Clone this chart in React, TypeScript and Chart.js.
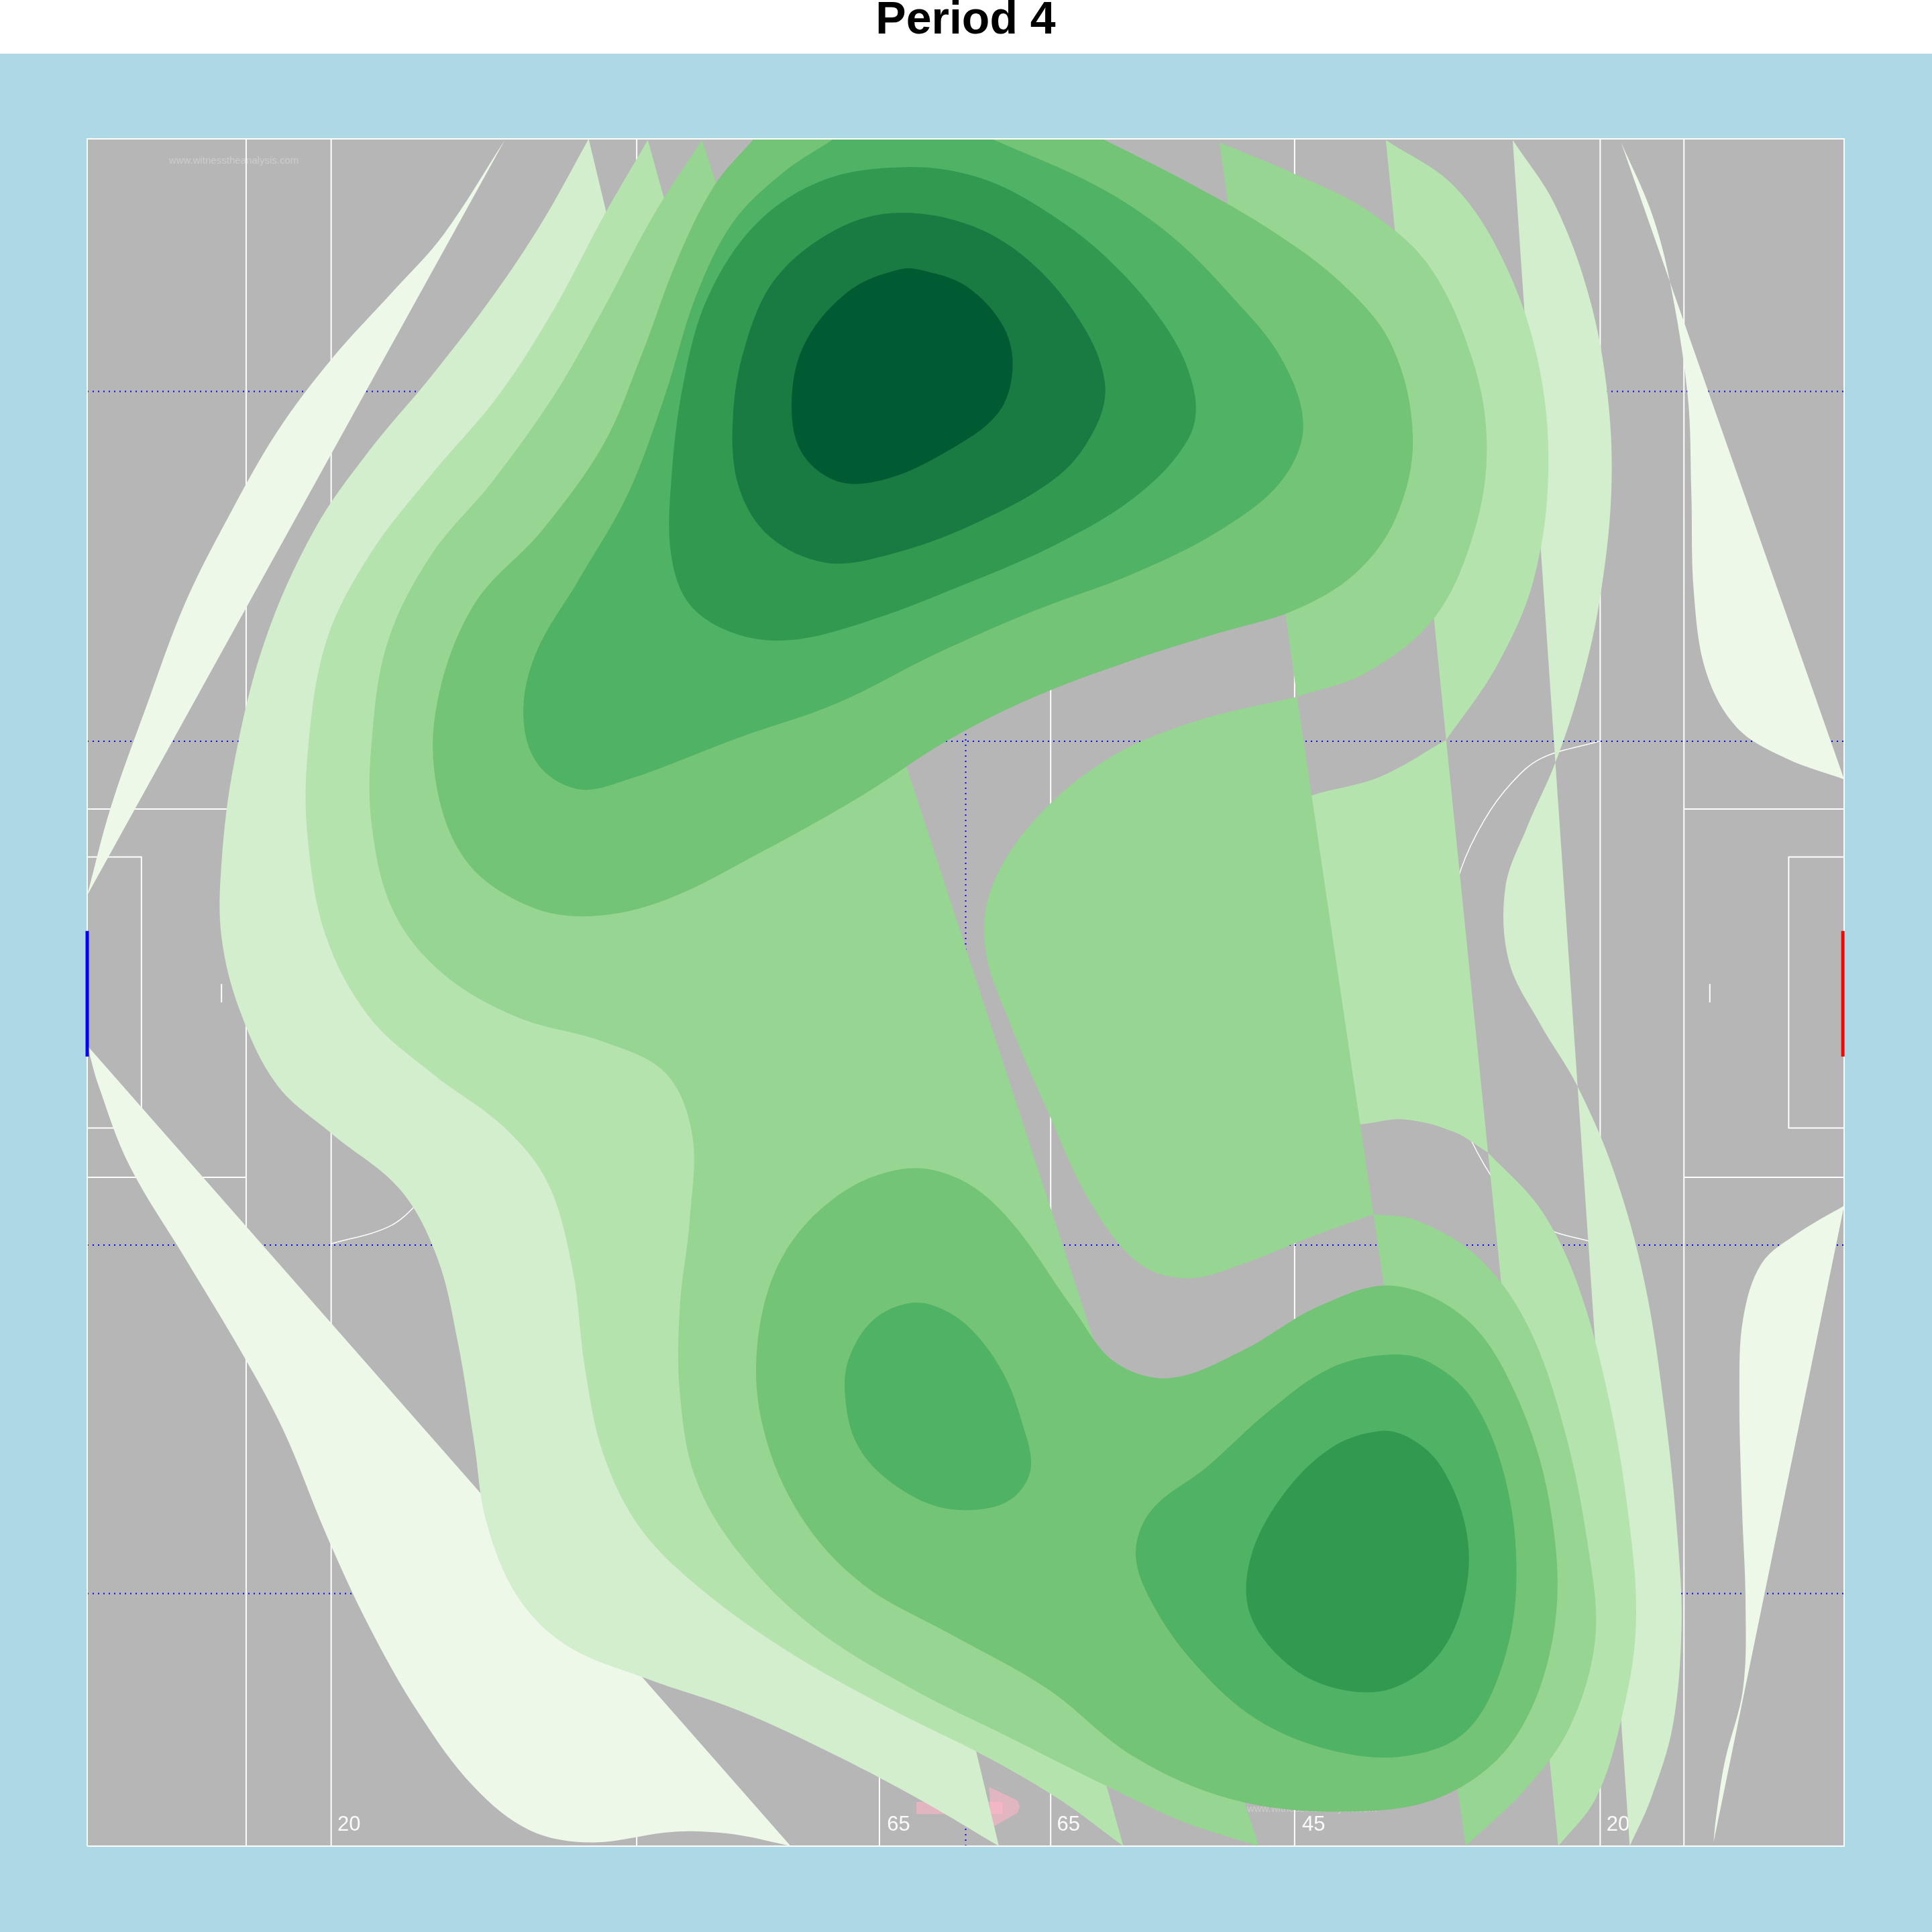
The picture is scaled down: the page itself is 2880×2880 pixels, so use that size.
import React, { useEffect, useRef } from "react";
import { Chart, registerables } from "chart.js";

Chart.register(...registerables);

type P = number[];

// Pitch extent in pitch units
const pitchWidth = 1426;
const pitchHeight = 1386;

// Density bands, light to dark. Each piece is a list of curves, joined by straight chords.
const level1A: P[][] = [[[0,772],[19,843],[49,928],[79,1008],[114,1078],[154,1148],[199,1208],[249,1263],[289,1308],[339,1385]]];
const level1B: P[][] = [[[571,0],[529,9],[495,12],[469,11],[409,3],[359,13],[314,48],[269,108],[229,178],[194,253],[159,338],[124,403],[79,478],[34,553],[9,618],[0,650]]];
const level1C: P[][] = [[[1245,1383],[1269,1328],[1284,1273],[1299,1178],[1302,1098],[1304,1018],[1314,953],[1339,908],[1379,883],[1426,866]]];
const level1D: P[][] = [[[1426,520],[1389,498],[1359,473],[1344,428],[1341,368],[1343,278],[1346,198],[1344,128],[1329,68],[1322,23],[1320,3]]];

const level2A: P[][] = [[[407,1386],[369,1318],[329,1258],[279,1193],[229,1133],[184,1068],[144,978],[119,878],[109,798],[109,738],[124,678],[154,618],[199,578],[254,533],[284,478],[301,408],[314,328],[324,263],[349,203],[389,163],[454,136],[529,110],[609,73],[679,36],[740,0]]];
const level2B: P[][] = [[[1157,1385],[1191,1333],[1219,1258],[1234,1178],[1237,1098],[1227,1008],[1211,938],[1191,878],[1169,828],[1151,778],[1154,718],[1179,668],[1209,618],[1239,548],[1264,458],[1281,348],[1291,248],[1294,178],[1287,98],[1269,38],[1252,0]]];

const level3A: P[][] = [[[455,1385],[419,1323],[379,1248],[334,1178],[279,1113],[229,1048],[194,978],[179,888],[179,818],[194,738],[229,673],[279,628],[339,583],[374,538],[394,468],[404,388],[419,318],[449,258],[499,208],[569,158],[649,113],[729,73],[789,38],[841,0]]];
const level3B: P[][] = [[[1054,1385],[1109,1348],[1149,1288],[1177,1208],[1186,1118],[1174,1028],[1144,958],[1103,898]]];
const level3C: P[][] = [[[1103,898],[1049,868],[994,853],[929,828],[919,738],[929,648],[979,583],[1034,586],[1069,590],[1109,580],[1137,563]]];
const level3D: P[][] = [[[1137,563],[1179,518],[1209,458],[1234,368],[1251,268],[1257,178],[1244,98],[1224,38],[1194,0]]];

const level4A: P[][] = [[[499,1385],[459,1323],[419,1248],[379,1178],[329,1108],[279,1048],[244,978],[231,898],[231,828],[249,758],[289,708],[349,673],[419,653],[469,628],[491,578],[489,508],[481,438],[481,368],[494,298],[529,238],[589,178],[669,128],[749,88],[829,48],[889,20],[951,0]]];
const level4B: P[][] = [[[919,1383],[979,1358],[1039,1328],[1089,1283],[1124,1208],[1136,1138],[1126,1068],[1094,998],[1039,953],[982,933]]];
const level4C: P[][] = [[[982,933],[899,913],[829,883],[769,833],[734,778],[729,728],[749,668],[779,598],[814,523],[854,473],[894,461],[939,473],[989,493],[1044,513]]];
const level4D: P[][] = [[[1044,513],[1079,508],[1129,478],[1169,423],[1199,338],[1219,238],[1224,168],[1204,98],[1169,48],[1119,0]]];

const level5A: P[][] = [[[541,1386],[509,1348],[479,1288],[449,1208],[419,1138],[369,1068],[314,1008],[284,928],[284,858],[309,798],[359,763],[409,755],[469,768],[549,808],[629,853],[699,898],[769,933],[849,963],[919,985],[979,1003],[1029,1033],[1062,1078],[1076,1143],[1059,1218],[1019,1268],[959,1313],[889,1353],[824,1386]]];
const level5B: P[][] = [[[664,550],[609,528],[564,478],[544,408],[549,338],[579,268],[629,213],[699,173],[779,128],[849,73],[929,38],[1019,28],[1099,40],[1159,88],[1191,178],[1187,278],[1159,368],[1119,428],[1059,455],[999,438],[939,403],[879,380],[834,393],[799,438],[749,508],[709,541],[664,550]]];

const level6A: P[][] = [[[606,1386],[564,1358],[524,1318],[494,1258],[469,1178],[439,1098],[399,1028],[364,968],[354,918],[366,878],[399,858],[439,866],[529,900],[609,928],[689,968],[769,1003],[849,1033],[919,1068],[969,1108],[987,1153],[969,1208],[929,1258],[879,1308],[819,1348],[734,1386]]];
const level6B: P[][] = [[[669,441],[639,428],[619,398],[615,368],[624,328],[649,298],[689,276],[729,274],[754,285],[766,308],[759,343],[744,383],[719,418],[694,436],[669,441]]];
const level6C: P[][] = [[[1057,399],[1009,388],[959,353],[909,308],[864,273],[851,238],[864,198],[899,148],[949,103],[1009,78],[1069,73],[1119,93],[1149,148],[1160,218],[1151,298],[1124,363],[1089,393],[1057,399]]];

const level7A: P[][] = [[[664,1363],[599,1353],[544,1318],[504,1258],[484,1188],[474,1108],[474,1048],[489,1008],[524,985],[569,979],[629,993],[709,1023],[789,1058],[854,1098],[894,1143],[899,1178],[879,1228],[829,1288],[769,1333],[719,1356],[664,1363]]];
const level7B: P[][] = [[[1049,337],[1009,323],[969,283],[944,233],[944,188],[974,148],[1014,128],[1059,128],[1099,158],[1119,208],[1119,258],[1099,308],[1074,331],[1049,337]]];

const level8A: P[][] = [[[659,1326],[609,1313],[559,1273],[534,1218],[524,1158],[529,1103],[554,1063],[599,1042],[649,1048],[719,1073],[789,1113],[819,1153],[826,1188],[809,1233],[769,1283],[719,1315],[659,1326]]];
const level9A: P[][] = [[[659,1280],[619,1263],[584,1223],[572,1178],[579,1133],[609,1108],[649,1110],[699,1133],[739,1163],[751,1198],[744,1233],[714,1266],[679,1279],[659,1280]]];

const levelColors = ["#EDF8E9", "#D2EECC", "#B5E3AE", "#97D593", "#73C476", "#50B264", "#319A50", "#197B41", "#005A32"];
const levels: P[][][][] = [
  [level1A, level1B, level1C, level1D],
  [level2A, level2B],
  [level3A, level3B, level3C, level3D],
  [level4A, level4B, level4C, level4D],
  [level5A, level5B],
  [level6A, level6B, level6C],
  [level7A, level7B],
  [level8A],
  [level9A],
];

// Pitch markings
const fullVerticals = [129, 198, 446, 643, 782, 980, 1228, 1296];
const zoneSegments: P[][] = [
  [[0, 842], [129, 842]], [[0, 543], [129, 543]],
  [[1296, 842], [1426, 842]], [[1296, 543], [1426, 543]],
  [[0, 803], [44, 803], [44, 583], [0, 583]],
  [[1426, 803], [1381, 803], [1381, 583], [1426, 583]],
  [[109, 700], [109, 685]], [[1317, 700], [1317, 685]],
];
const leftArc: any = [[198,897],[245,883],[269,863],[291,833],[310,793],[322,743],[326,693],[322,643],[310,593],[291,553],[269,523],[245,503],[198,489]];
const rightArc: any = [[1227,897],[1180,883],[1156,863],[1134,833],[1115,793],[1103,743],[1099,693],[1103,643],[1115,593],[1134,553],[1156,523],[1180,503],[1227,489]];
const dottedHorizontals = [1181, 897, 488, 205];
const dottedVertical = 713;
const blueGoal: any = [[0, 743], [0, 641]];
const redGoal: any = [[1425, 743], [1425, 641]];
const arrowShaft: any = [[673,36],[743,36],[743,26],[673,26]];
const arrowHead: any = [[732,48],[755,37],[757,32],[755,27],[734,15]];

const yardLabels = ["20", "65", "65", "45", "20"];
const yardLabelX = [212.5, 658.5, 796.5, 995.5, 1242.5];
const yardLabelY = 17;
const watermarkText = "www.witnesstheanalysis.com";
const watermarkX = [119, 994];
const watermarkY = [1368, 30];

const toPts = (a: any[]) => a.map(([x, y]: number[]) => ({ x, y }));

function pieceToPoints(arcs: P[][]) {
  const out: number[][] = [];
  for (const arc of arcs) {
    const n = arc.length;
    const closed = arc[0][0] === arc[n - 1][0] && arc[0][1] === arc[n - 1][1];
    // closed outlines run on past their start so the curve has no corner there;
    // open curves get doubled ends so the joining chords stay straight
    if (closed) out.push(arc[n - 2], ...arc, arc[1]);
    else out.push(arc[0], ...arc, arc[n - 1]);
  }
  return toPts(out);
}

const polygon = (data: any[], color: string, tension = 0) => ({
  type: "scatter", data, showLine: true, fill: "shape", backgroundColor: color,
  borderWidth: 0, borderColor: color, pointRadius: 0, tension, clip: false,
});
const stroke = (data: any[], color: string, width: number, extra: any = {}) => ({
  type: "scatter", data, showLine: true, fill: false, borderColor: color, backgroundColor: color,
  borderWidth: width, pointRadius: 0, tension: 0, clip: false, ...extra,
});

const page = {
  id: "pagePaint",
  beforeDraw(chart: any) {
    const { ctx, chartArea: a, width } = chart;
    ctx.save();
    ctx.fillStyle = "#FFFFFF";
    ctx.fillRect(0, 0, width, 80);
    ctx.fillStyle = "#B6B6B6";
    ctx.fillRect(a.left, a.top, a.right - a.left, a.bottom - a.top);
    ctx.restore();
  },
};

const pitchText = {
  id: "pitchText",
  // drawn under the density bands
  beforeDatasetsDraw(chart: any) {
    const { ctx, scales } = chart;
    ctx.save();
    ctx.textAlign = "center";
    ctx.textBaseline = "middle";
    ctx.fillStyle = "rgba(255,255,255,0.95)";
    ctx.font = "31px 'Liberation Sans'";
    yardLabels.forEach((t, i) => ctx.fillText(t, scales.x.getPixelForValue(yardLabelX[i]), scales.y.getPixelForValue(yardLabelY)));
    ctx.fillStyle = "rgba(255,255,255,0.3)";
    ctx.font = "15px 'Liberation Sans'";
    watermarkX.forEach((x, i) => ctx.fillText(watermarkText, scales.x.getPixelForValue(x), scales.y.getPixelForValue(watermarkY[i])));
    ctx.restore();
  },
};

export default function App() {
  const ref = useRef<HTMLCanvasElement>(null);
  useEffect(() => {
    const drawOrder: any[] = [];
    // pitch markings
    for (const x of fullVerticals) drawOrder.push(stroke(toPts([[x, 0], [x, pitchHeight]]), "#FFFFFF", 2));
    for (const s of zoneSegments) drawOrder.push(stroke(toPts(s), "#FFFFFF", 2));
    drawOrder.push(stroke(toPts(leftArc), "#FFFFFF", 1.5, { tension: 0.35 }));
    drawOrder.push(stroke(toPts(rightArc), "#FFFFFF", 1.5, { tension: 0.35 }));
    for (const y of dottedHorizontals) drawOrder.push(stroke(toPts([[0, y], [pitchWidth, y]]), "#0000FF", 2, { borderDash: [2, 6] }));
    drawOrder.push(stroke(toPts([[dottedVertical, 0], [dottedVertical, pitchHeight]]), "#0000FF", 2, { borderDash: [2, 6] }));
    // attack arrow
    drawOrder.push(polygon(toPts(arrowShaft), "rgba(255,182,200,0.6)"));
    drawOrder.push(polygon(toPts(arrowHead), "rgba(255,182,200,0.6)"));
    // density bands
    levels.forEach((pieces, i) => {
      for (const piece of pieces) drawOrder.push(polygon(pieceToPoints(piece), levelColors[i], 0.35));
    });
    // frame and goals on top
    drawOrder.push(stroke(toPts([[0, 0], [pitchWidth, 0], [pitchWidth, pitchHeight], [0, pitchHeight], [0, 0]]), "#FFFFFF", 2));
    drawOrder.push(stroke(toPts(blueGoal), "#0000FF", 5));
    drawOrder.push(stroke(toPts(redGoal), "#FF0000", 5));

    const chart = new Chart(ref.current!, {
      type: "scatter",
      data: { datasets: drawOrder.reverse() },
      options: {
        responsive: false,
        animation: false,
        devicePixelRatio: 1,
        layout: { padding: { left: 130, right: 131, bottom: 128, top: 0 } },
        scales: {
          x: { type: "linear", display: false, min: 0, max: pitchWidth },
          y: { type: "linear", display: false, min: 0, max: pitchHeight },
        },
        plugins: {
          legend: { display: false },
          tooltip: { enabled: false },
          title: {
            display: true,
            text: "Period 4",
            color: "#000000",
            font: { family: "'Liberation Sans'", size: 68, weight: "bold", lineHeight: 1 },
            padding: { top: -3, bottom: 142 },
          },
        },
      } as any,
      plugins: [page, pitchText],
    } as any);
    return () => chart.destroy();
  }, []);
  return (
    <div style={{ position: "absolute", left: 0, top: 0, width: 2880, height: 2880, background: "#ADD8E6" }}>
      <canvas ref={ref} width={2880} height={2880} style={{ display: "block" }} />
    </div>
  );
}
